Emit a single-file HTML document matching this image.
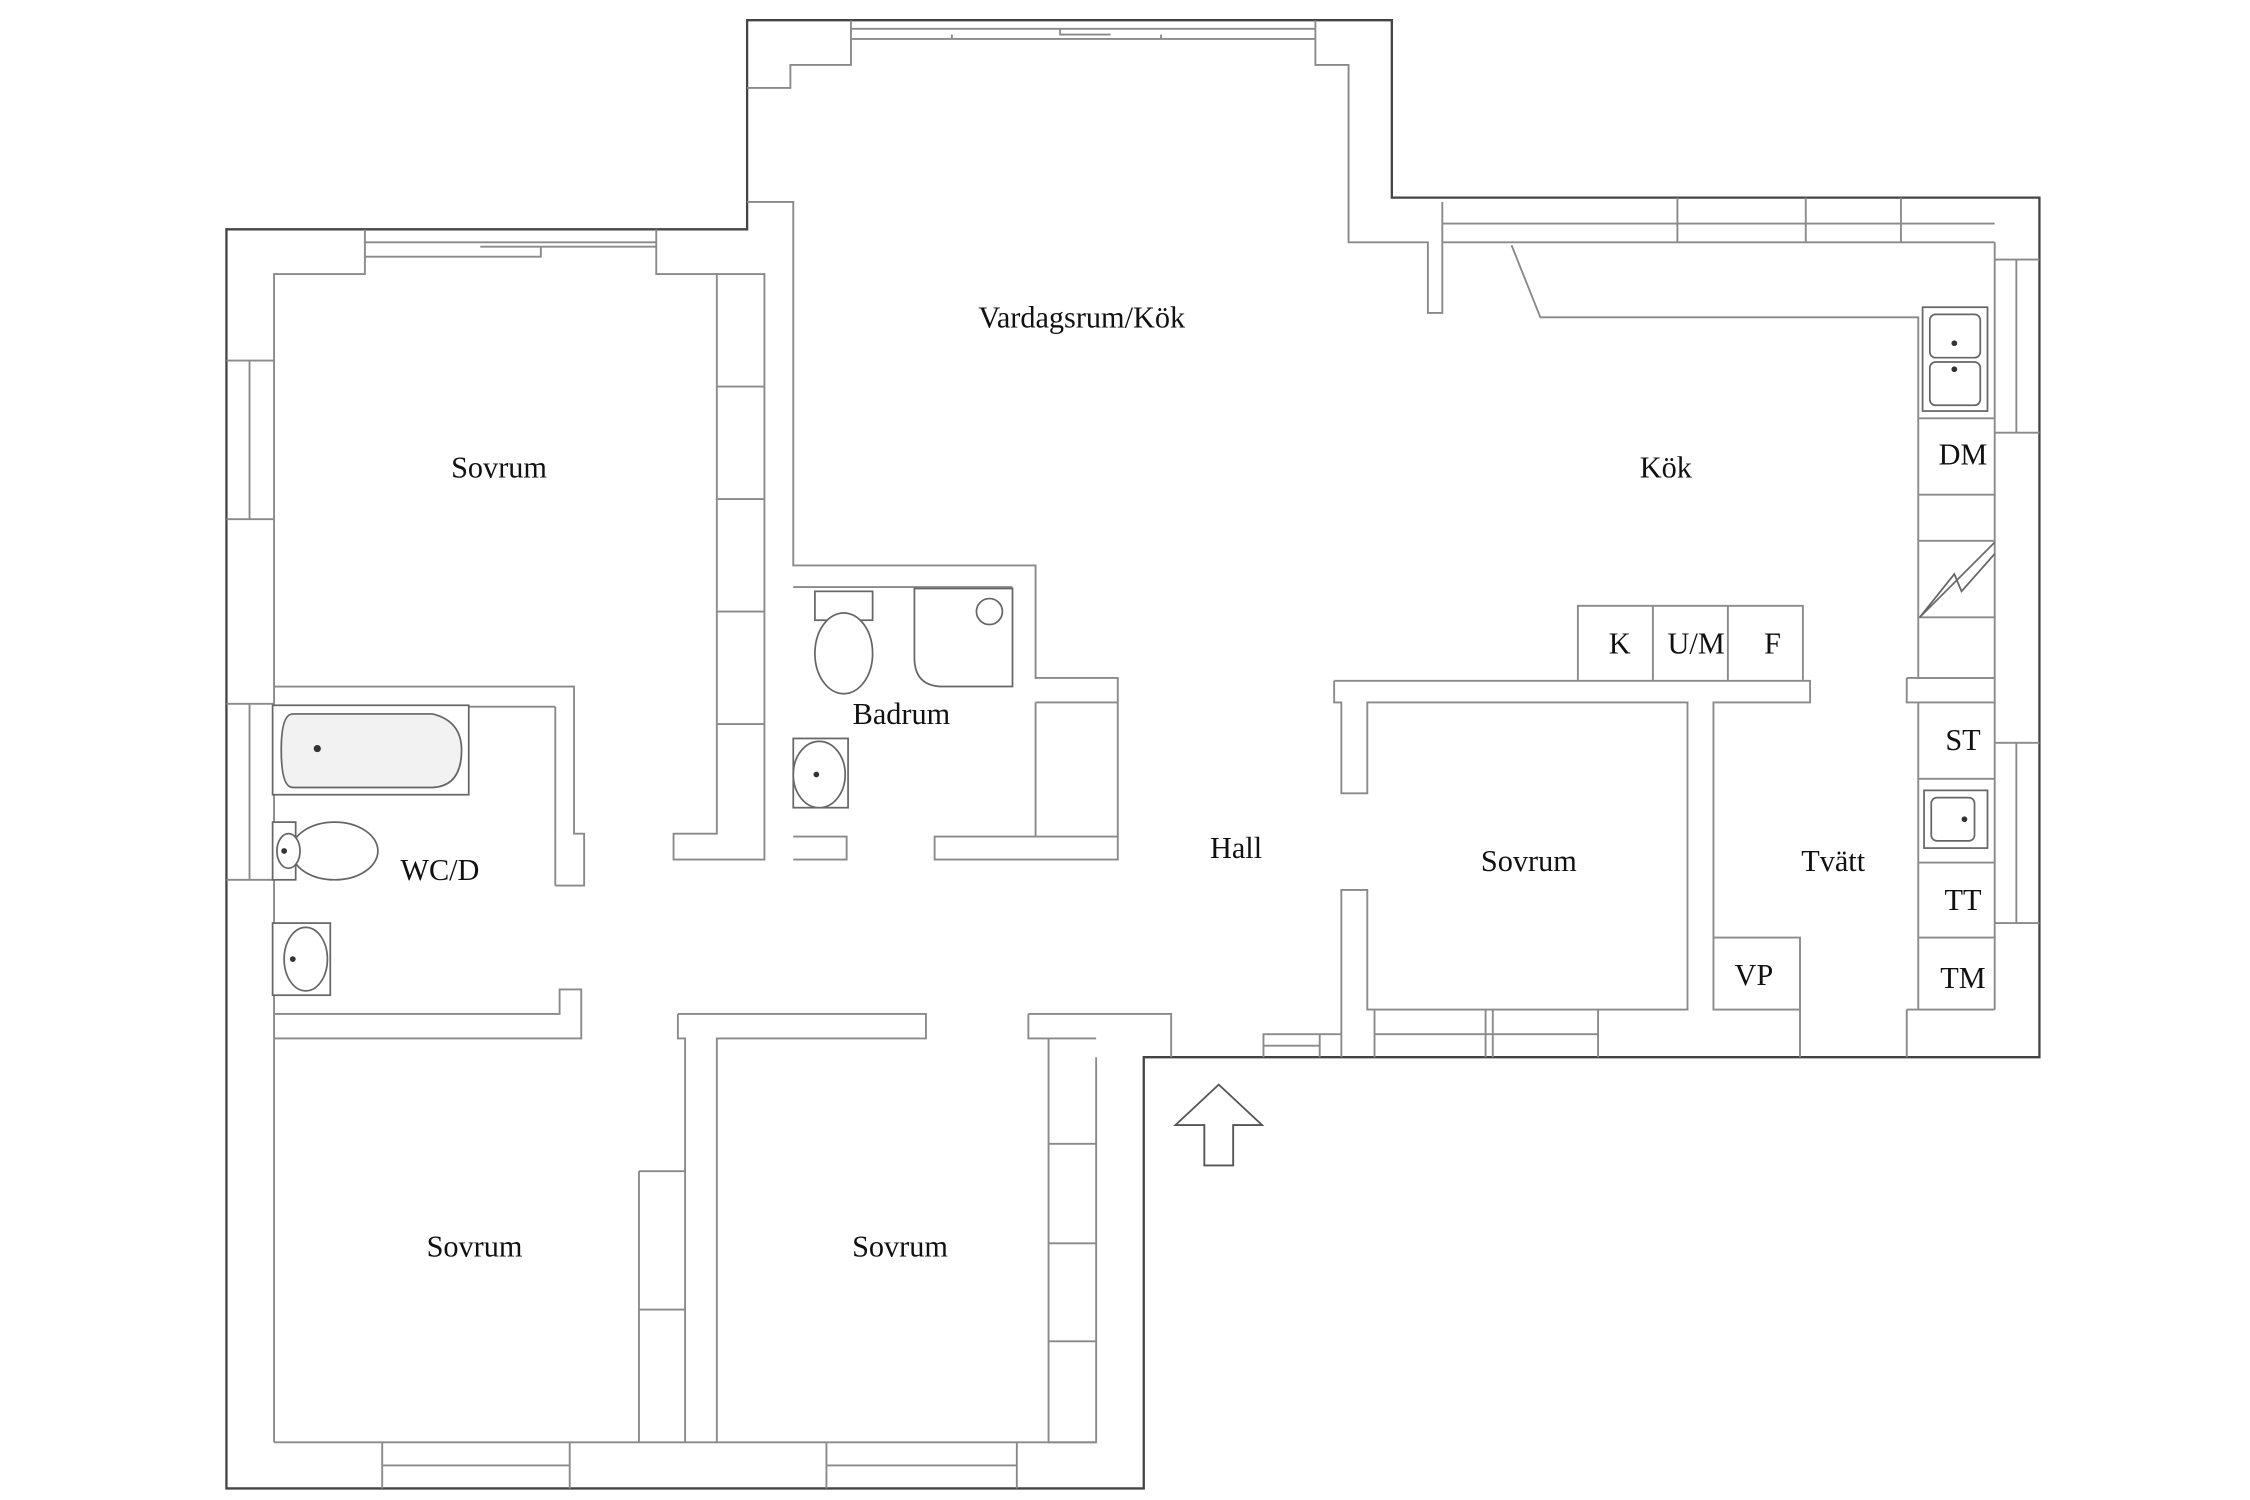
<!DOCTYPE html>
<html><head><meta charset="utf-8"><style>
html,body{margin:0;padding:0;background:#fff}
svg{display:block}
text{font-family:"Liberation Serif",serif;font-size:21px;fill:#111;text-anchor:middle}
</style></head><body>
<svg width="2250" height="1500" viewBox="0 0 1560 1040" xmlns="http://www.w3.org/2000/svg">
<g fill="none" stroke="#444" stroke-width="1.6">
<path d="M518,14 H965 V137 H1414 V733 H793 V1032 H157 V159 H518 Z"/>
</g>
<g fill="none" stroke="#8a8a8a" stroke-width="1.3">
<!-- top left bedroom -->
<path d="M157,250 H190 M157,360 H190 M173,250 V360"/>
<path d="M190,1000 V190 H253 V159 M253,168 H455 M253,178 H375 V171 M333,171 H455 M455,159 V190 H497 M497,190 V578 H467 V596 H530 V190 H497"/>
<path d="M497,268 H530 M497,346 H530 M497,424 H530 M497,502 H530"/>
<!-- living -->
<path d="M518,61 H548 V45 H590 V14 M590,20 H912 M590,27 H912 M660,27 V24 M735,20 V24 H770 M805,27 V24 M518,140 H550 V392 H718 V470 H775 V580 H648 V596 H775 V487 M718,487 H775 M718,487 V580"/>
<path d="M912,14 V45 H935 V168 H990 V217 H1000 V140 M1000,155 H1383 M1000,168 H1383 M1163,137 V168 M1252,137 V168 M1318,137 V168"/>
<path d="M550,407 H702 M550,580 H587 V596 H550"/>
<!-- kitchen counter -->
<path d="M1048,170 L1068,220 H1330 V470 H1383 M1330,290 H1383 M1330,343 H1383 M1330,375 H1383 M1330,428 H1383"/>
<path d="M1383,168 V700 M1398,180 V300 M1383,180 H1414 M1383,300 H1414 M1398,515 V640 M1383,515 H1414 M1383,640 H1414"/>
<path d="M1322,470 H1383 M1322,470 V487 H1383 M1330,487 V700 M1330,540 H1383 M1330,598 H1383 M1330,650 H1383 M1322,700 H1383 M1322,700 V733"/>
<!-- K U/M F -->
<path d="M1094,472 V420 H1250 V472 M1146,420 V472 M1198,420 V472"/>
<path d="M925,472 H1255 V487 H1188 V700 H1248 V733 M1188,650 H1248 V700 M925,472 V487 H930 V550 H948 V487 H1170 V700 H948 V617 H930 V733 M948,700 H1108 V733 M953,700 V733 M1030,700 V733 M1035,700 V733 M953,717 H1108"/>
<path d="M876,733 V717 H915 V733 M876,725 H915 M915,717 H930"/>
<!-- WC/D -->
<path d="M157,488 H190 M157,610 H190 M173,488 V610"/>
<path d="M190,476 H398 V578 H405 V614 H398 M385,490 V614 M190,490 H385 M385,614 H398"/>
<path d="M190,703 H388 V686 H403 V720 H190 M470,703 H642 V720 H497 V1000 M470,703 V720 H475 V1000 M713,703 H812 V733 M713,703 V720 H760 M727,720 V1000 H760 V733 M727,793 H760 M727,862 H760 M727,930 H760"/>
<path d="M443,812 H475 M443,812 V1000 M443,908 H475"/>
<path d="M190,1000 H760 M265,1000 V1032 M395,1000 V1032 M265,1016 H395 M573,1000 V1032 M705,1000 V1032 M573,1016 H705"/>
<!-- entrance arrow -->
<path d="M835,808 V780 H815 L845,752 L875,780 H855 V808 Z" stroke="#555"/>
</g>
<!-- fixtures -->
<g fill="#fff" stroke="#666" stroke-width="1.2">
<rect x="189" y="489" width="136" height="62"/>
<path d="M203,495 H300 Q320,500 320,520 Q320,545 300,546 H203 Q195,546 195,520 Q195,495 203,495 Z" fill="#f2f2f2"/>
<rect x="189" y="570" width="16" height="40"/>
<ellipse cx="232" cy="590" rx="30" ry="20"/>
<ellipse cx="200" cy="590" rx="8" ry="12"/>
<rect x="189" y="640" width="40" height="50"/>
<ellipse cx="212" cy="665" rx="15" ry="22"/>
<rect x="565" y="410" width="40" height="20"/>
<ellipse cx="585" cy="453" rx="20" ry="28"/>
<path d="M634,408 H702 V476 H654 Q634,476 634,456 Z"/>
<circle cx="686" cy="424" r="9"/>
<rect x="550" y="512" width="38" height="48"/>
<ellipse cx="568" cy="537" rx="18" ry="23"/>
<rect x="1333" y="213" width="45" height="72"/>
<rect x="1338" y="218" width="35" height="30" rx="4"/>
<rect x="1338" y="251" width="35" height="30" rx="4"/>
<rect x="1334" y="548" width="44" height="40"/>
<rect x="1339" y="553" width="30" height="30" rx="4"/>
<path d="M1331,428 L1383,376 M1331,428 L1355,398 L1360,410 L1383,384" fill="none"/>
</g>
<g fill="#333"><circle cx="220" cy="519" r="2.5"/><circle cx="197" cy="590" r="2"/><circle cx="203" cy="665" r="2"/><circle cx="566" cy="537" r="2"/><circle cx="1355" cy="238" r="2"/><circle cx="1355" cy="256" r="2"/><circle cx="1362" cy="568" r="2"/></g>
<text x="750" y="227">Vardagsrum/Kök</text>
<text x="346" y="331">Sovrum</text>
<text x="1155" y="331">Kök</text>
<text x="1361" y="322">DM</text>
<text x="625" y="502">Badrum</text>
<text x="1123" y="453">K</text>
<text x="1176" y="453">U/M</text>
<text x="1229" y="453">F</text>
<text x="1361" y="520">ST</text>
<text x="857" y="595">Hall</text>
<text x="1060" y="604">Sovrum</text>
<text x="1271" y="604">Tvätt</text>
<text x="305" y="610">WC/D</text>
<text x="1361" y="631">TT</text>
<text x="1216" y="683">VP</text>
<text x="1361" y="685">TM</text>
<text x="329" y="871">Sovrum</text>
<text x="624" y="871">Sovrum</text>
</svg>
</body></html>
